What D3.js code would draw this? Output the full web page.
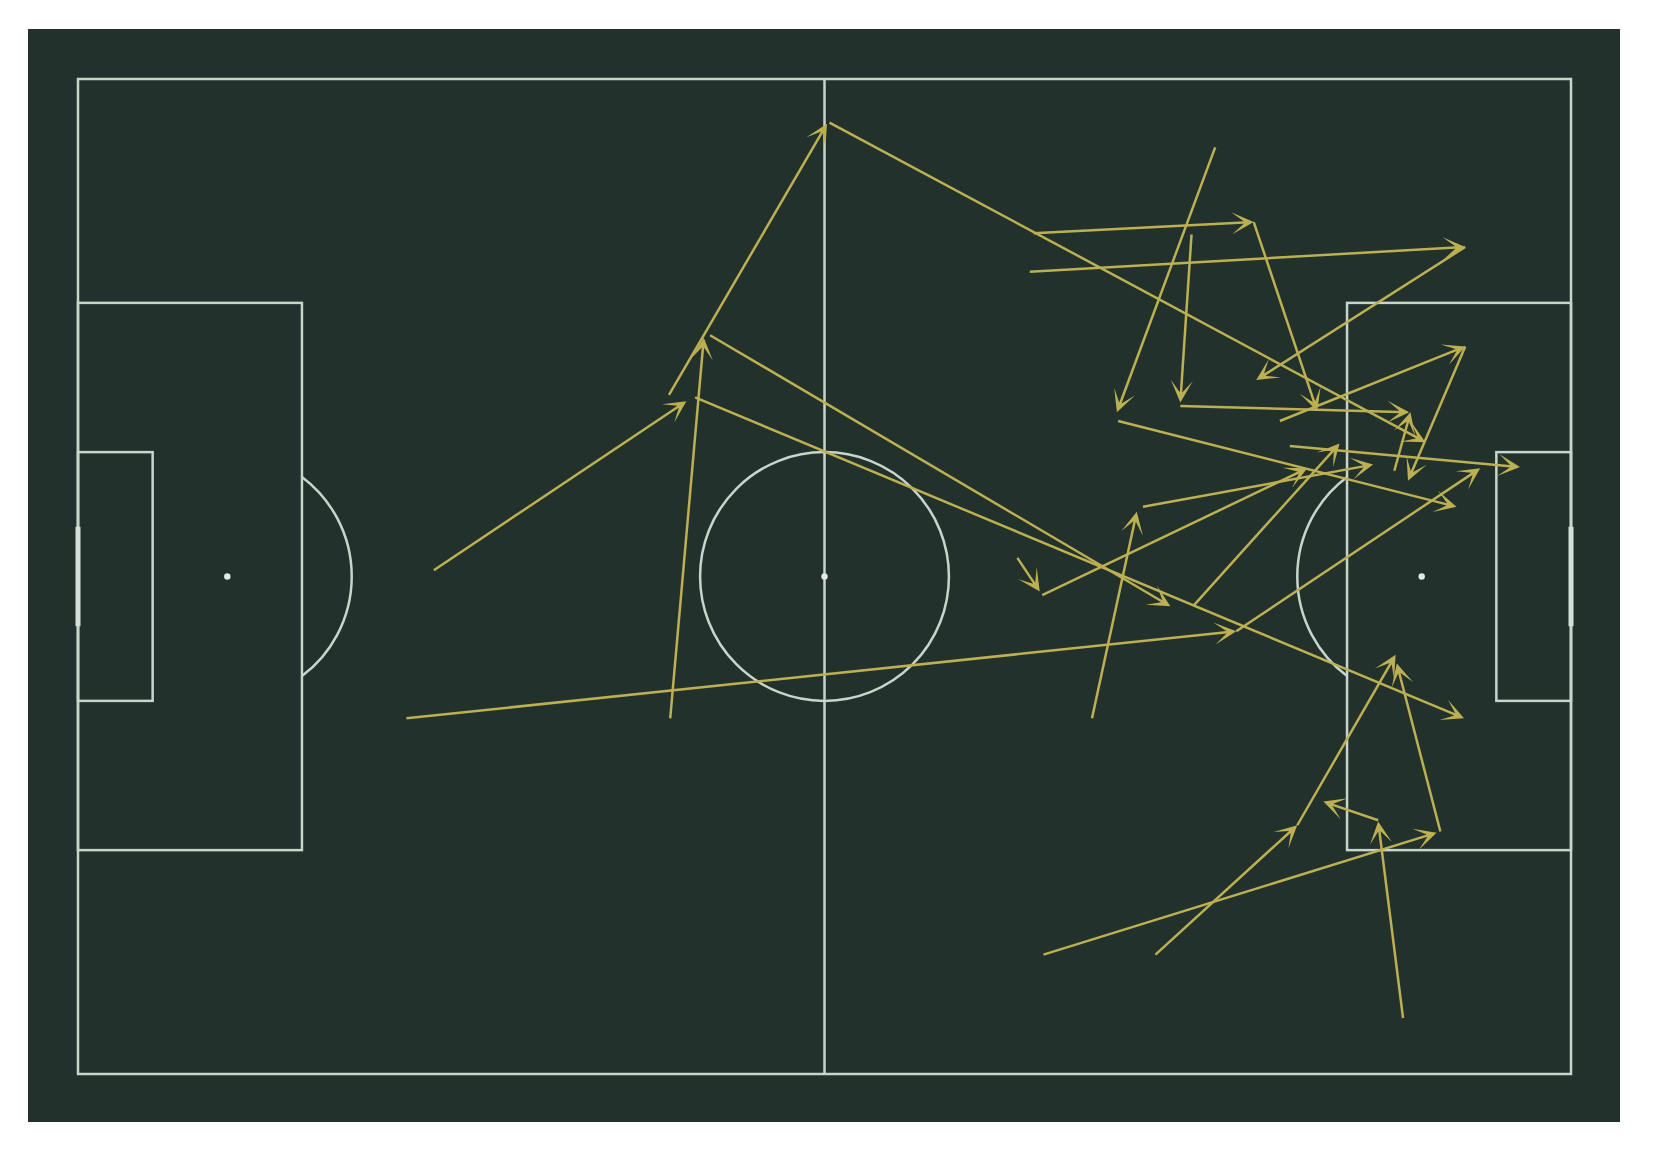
<!DOCTYPE html>
<html>
<head>
<meta charset="utf-8">
<script src="https://cdn.jsdelivr.net/npm/d3@7"></script>
<style>
  html, body { margin: 0; padding: 0; background: #ffffff; }
  svg { display: block; }
</style>
</head>
<body>
<svg id="chart"></svg>
<script>
// pass locations, statsbomb pitch units (120 x 80)
const startX = [28.6, 47.6, 47.5, 60.4, 50.8, 49.6, 26.4, 93.1, 76.8, 94.5,
                76.5, 111.5, 91.4, 83.6, 89.5, 88.6, 96.6, 111.5, 75.5, 77.5,
                81.5, 85.6, 89.7, 97.4, 77.6, 86.6, 98.0, 109.5, 106.5, 104.5, 105.8];
const startY = [39.5, 51.4, 25.4, 3.5, 20.6, 25.6, 51.4, 44.4, 12.4, 11.5,
                15.5, 13.5, 5.5, 27.5, 12.5, 26.3, 27.5, 21.5, 38.5, 41.5,
                51.4, 34.4, 42.3, 29.5, 70.4, 70.4, 60.0, 60.5, 75.5, 59.6, 31.5];
const endX   = [48.9, 50.3, 60.2, 108.3, 87.8, 111.4, 93.1, 112.7, 94.5, 99.6,
                111.5, 94.7, 83.5, 110.8, 88.6, 107.0, 111.5, 106.9, 77.3, 98.8,
                85.1, 104.1, 101.4, 115.9, 109.2, 98.0, 105.9, 106.0, 104.5, 100.1, 107.1];
const endY   = [25.9, 20.8, 3.6, 29.2, 42.4, 51.4, 44.4, 31.3, 11.5, 26.7,
                13.5, 24.2, 26.8, 34.4, 26.0, 26.8, 21.5, 32.3, 41.2, 31.3,
                34.8, 31.0, 29.3, 31.2, 60.6, 60.0, 46.3, 47.0, 59.7, 58.1, 26.8];

const pitchColor = "#22312b";
const lineColor = "#c7d5cc";
const arrowColor = "#bcb053";

const dimensions = {
    width: 1666,
    height: 1160,
    frame: {left: 28, top: 29, right: 1620, bottom: 1122},
    pitch: {left: 78, top: 79, right: 1571, bottom: 1074}
};
const {width, height, frame, pitch} = dimensions;

const svg = d3.select("#chart")
    .attr("width", width)
    .attr("height", height);

const x = d3.scaleLinear().domain([0, 120]).range([pitch.left, pitch.right]);
const y = d3.scaleLinear().domain([0, 80]).range([pitch.top, pitch.bottom]);
const k = x(1) - x(0);   // pixels per pitch unit

// figure background
svg.append("rect")
    .attr("x", frame.left)
    .attr("y", frame.top)
    .attr("width", frame.right - frame.left)
    .attr("height", frame.bottom - frame.top)
    .attr("fill", pitchColor);

const lines = svg.append("g")
    .attr("fill", "none")
    .attr("stroke", lineColor)
    .attr("stroke-width", 2.5);

function box(x0, y0, x1, y1) {
    lines.append("rect")
        .attr("x", x(x0)).attr("y", y(y0))
        .attr("width", x(x1) - x(x0))
        .attr("height", y(y1) - y(y0));
}

// outline, halfway line, boxes
box(0, 0, 120, 80);
lines.append("line")
    .attr("x1", x(60)).attr("x2", x(60))
    .attr("y1", y(0)).attr("y2", y(80));
box(0, 18, 18, 62);
box(102, 18, 120, 62);
box(0, 30, 6, 50);
box(114, 30, 120, 50);

// centre circle
lines.append("circle")
    .attr("cx", x(60)).attr("cy", y(40))
    .attr("r", 10 * k);

// penalty arcs (part of r=10 circle outside the box)
const a = Math.acos(6 / 10);
const arc = d3.arc().innerRadius(10 * k).outerRadius(10 * k);
lines.append("path")
    .attr("transform", "translate(" + x(12) + "," + y(40) + ")")
    .attr("d", arc({startAngle: Math.PI / 2 - a, endAngle: Math.PI / 2 + a}));
lines.append("path")
    .attr("transform", "translate(" + x(108) + "," + y(40) + ")")
    .attr("d", arc({startAngle: -Math.PI / 2 - a, endAngle: -Math.PI / 2 + a}));

// goals
[0, 120].forEach(function(gx) {
    svg.append("line")
        .attr("x1", x(gx)).attr("x2", x(gx))
        .attr("y1", y(36)).attr("y2", y(44))
        .attr("stroke", "#d6e0da")
        .attr("stroke-width", 5);
});

// spots
[12, 60, 108].forEach(function(sx) {
    svg.append("circle")
        .attr("cx", x(sx)).attr("cy", y(40))
        .attr("r", 3.2)
        .attr("fill", "#e4ebe6");
});

// quiver style arrows: thin shaft, dart shaped head
const w = 2.5, hl = 22, hw = 22, hal = 10;

function arrowPath(d) {
    const x0 = x(d.sx), y0 = y(d.sy), x1 = x(d.ex), y1 = y(d.ey);
    const L = Math.hypot(x1 - x0, y1 - y0);
    const ux = (x1 - x0) / L, uy = (y1 - y0) / L;
    const px = -uy, py = ux;
    // shrink the head for very short passes
    const s = L < hl ? L / hl : 1;
    const pts = [
        [0, -w / 2], [L - hal * s, -w / 2], [L - hl * s, -hw * s / 2],
        [L, 0],
        [L - hl * s, hw * s / 2], [L - hal * s, w / 2], [0, w / 2]
    ];
    return "M" + pts.map(function(p) {
        return (x0 + ux * p[0] + px * p[1]).toFixed(2) + "," +
               (y0 + uy * p[0] + py * p[1]).toFixed(2);
    }).join("L") + "Z";
}

const passes = startX.map(function(d, i) {
    return {sx: startX[i], sy: startY[i], ex: endX[i], ey: endY[i]};
});

svg.append("g")
    .selectAll("path")
    .data(passes)
    .enter().append("path")
    .attr("d", arrowPath)
    .attr("fill", arrowColor);
</script>
</body>
</html>
